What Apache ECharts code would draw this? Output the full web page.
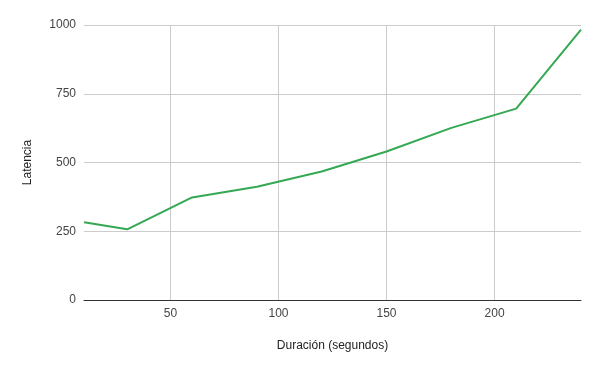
<!DOCTYPE html>
<html>
<head>
<meta charset="utf-8">
<script src="https://cdn.jsdelivr.net/npm/echarts@6/dist/echarts.min.js"></script>
<style>html,body{margin:0;padding:0;background:#fff}#c{width:600px;height:371px}</style>
</head>
<body>
<div id="c"></div>
<script>
const durations = [10, 30, 60, 90, 120, 150, 180, 210, 240];
const latencies = [283, 257, 373, 412, 467, 540, 626, 696, 983];
const xTicks = [50, 100, 150, 200];
const yTicks = [0, 250, 500, 750, 1000];
const xName = 'Duración (segundos)';
const yName = 'Latencia';

const chart = echarts.init(document.getElementById('c'));
const font = 'Arial, "Liberation Sans", sans-serif';
chart.setOption({
  animation: false,
  grid: {left: 84, right: 19, top: 25, bottom: 71, containLabel: false},
  xAxis: {
    type: 'value', min: 10, max: 240,
    name: xName, nameLocation: 'middle', nameGap: 40,
    nameTextStyle: {fontFamily: font, fontSize: 12, color: '#222'},
    axisLine: {show: true, lineStyle: {color: '#333', width: 1}},
    axisTick: {show: false, customValues: xTicks},
    axisLabel: {customValues: xTicks, fontFamily: font, fontSize: 12, color: '#444', margin: 8},
    splitLine: {show: true, lineStyle: {color: '#ccc', width: 1}}
  },
  yAxis: {
    type: 'value', min: 0, max: 1000,
    name: yName, nameLocation: 'middle', nameGap: 50, nameRotate: 90,
    nameTextStyle: {fontFamily: font, fontSize: 12, color: '#222'},
    axisLine: {show: false},
    axisTick: {show: false, customValues: yTicks},
    axisLabel: {customValues: yTicks, formatter: v => String(v), fontFamily: font, fontSize: 12, color: '#444', margin: 8},
    splitLine: {show: true, lineStyle: {color: '#ccc', width: 1}}
  },
  series: [{
    type: 'line',
    data: durations.map((d, i) => [d, latencies[i]]),
    showSymbol: false, symbol: 'none',
    lineStyle: {color: '#34a853', width: 2},
    itemStyle: {color: '#34a853'}
  }]
});
</script>
</body>
</html>
